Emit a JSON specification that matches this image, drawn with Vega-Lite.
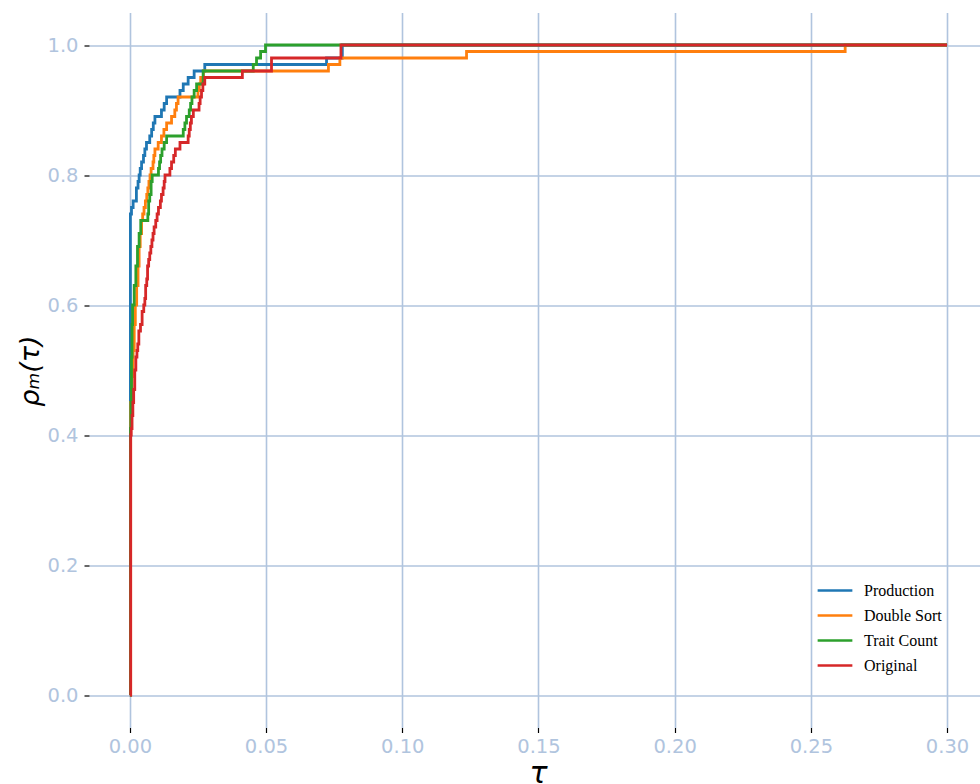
{
  "$schema": "https://vega.github.io/schema/vega-lite/v6.json",
  "autosize": {"type": "none"},
  "padding": {"left": 89, "top": 12.5, "right": 0, "bottom": 56.5},
  "width": 891,
  "height": 715,
  "background": "white",
  "config": {
    "view": {"stroke": null},
    "axis": {
      "domain": false,
      "grid": true,
      "gridColor": "#b0c4de",
      "gridWidth": 1.6,
      "tickColor": "#000000",
      "tickSize": 5,
      "tickWidth": 1.2,
      "labelColor": "#b0c4de",
      "labelFont": "DejaVu Sans",
      "labelFontSize": 19.5,
      "titleColor": "#000000",
      "titleFont": "DejaVu Sans",
      "titleFontStyle": "italic",
      "titleFontWeight": "normal"
    }
  },
  "data": {
    "values": [
      {"s": "Production", "t": 0, "r": 0},
      {"s": "Production", "t": 0.0002, "r": 0.74},
      {"s": "Production", "t": 0.0006, "r": 0.75},
      {"s": "Production", "t": 0.0012, "r": 0.76},
      {"s": "Production", "t": 0.0024, "r": 0.78},
      {"s": "Production", "t": 0.003, "r": 0.79},
      {"s": "Production", "t": 0.0034, "r": 0.80},
      {"s": "Production", "t": 0.0038, "r": 0.81},
      {"s": "Production", "t": 0.0043, "r": 0.82},
      {"s": "Production", "t": 0.005, "r": 0.83},
      {"s": "Production", "t": 0.0055, "r": 0.84},
      {"s": "Production", "t": 0.0061, "r": 0.85},
      {"s": "Production", "t": 0.0073, "r": 0.86},
      {"s": "Production", "t": 0.008, "r": 0.87},
      {"s": "Production", "t": 0.0086, "r": 0.88},
      {"s": "Production", "t": 0.0092, "r": 0.89},
      {"s": "Production", "t": 0.0116, "r": 0.90},
      {"s": "Production", "t": 0.0126, "r": 0.91},
      {"s": "Production", "t": 0.0135, "r": 0.92},
      {"s": "Production", "t": 0.0184, "r": 0.93},
      {"s": "Production", "t": 0.0196, "r": 0.94},
      {"s": "Production", "t": 0.0214, "r": 0.95},
      {"s": "Production", "t": 0.0236, "r": 0.96},
      {"s": "Production", "t": 0.0275, "r": 0.97},
      {"s": "Production", "t": 0.0722, "r": 0.98},
      {"s": "Production", "t": 0.078, "r": 1.0},
      {"s": "Production", "t": 0.30, "r": 1.0},

      {"s": "Double Sort", "t": 0, "r": 0},
      {"s": "Double Sort", "t": 0.0003, "r": 0.45},
      {"s": "Double Sort", "t": 0.0008, "r": 0.49},
      {"s": "Double Sort", "t": 0.0012, "r": 0.53},
      {"s": "Double Sort", "t": 0.0016, "r": 0.57},
      {"s": "Double Sort", "t": 0.002, "r": 0.60},
      {"s": "Double Sort", "t": 0.0025, "r": 0.63},
      {"s": "Double Sort", "t": 0.003, "r": 0.66},
      {"s": "Double Sort", "t": 0.0034, "r": 0.69},
      {"s": "Double Sort", "t": 0.0038, "r": 0.71},
      {"s": "Double Sort", "t": 0.0043, "r": 0.73},
      {"s": "Double Sort", "t": 0.0047, "r": 0.74},
      {"s": "Double Sort", "t": 0.0052, "r": 0.75},
      {"s": "Double Sort", "t": 0.0057, "r": 0.76},
      {"s": "Double Sort", "t": 0.0062, "r": 0.77},
      {"s": "Double Sort", "t": 0.0066, "r": 0.78},
      {"s": "Double Sort", "t": 0.007, "r": 0.79},
      {"s": "Double Sort", "t": 0.0074, "r": 0.80},
      {"s": "Double Sort", "t": 0.0078, "r": 0.81},
      {"s": "Double Sort", "t": 0.0085, "r": 0.82},
      {"s": "Double Sort", "t": 0.0088, "r": 0.83},
      {"s": "Double Sort", "t": 0.0092, "r": 0.84},
      {"s": "Double Sort", "t": 0.0104, "r": 0.85},
      {"s": "Double Sort", "t": 0.0116, "r": 0.86},
      {"s": "Double Sort", "t": 0.0125, "r": 0.87},
      {"s": "Double Sort", "t": 0.0135, "r": 0.88},
      {"s": "Double Sort", "t": 0.0153, "r": 0.89},
      {"s": "Double Sort", "t": 0.0165, "r": 0.90},
      {"s": "Double Sort", "t": 0.0171, "r": 0.91},
      {"s": "Double Sort", "t": 0.0177, "r": 0.92},
      {"s": "Double Sort", "t": 0.025, "r": 0.93},
      {"s": "Double Sort", "t": 0.0255, "r": 0.94},
      {"s": "Double Sort", "t": 0.026, "r": 0.95},
      {"s": "Double Sort", "t": 0.027, "r": 0.96},
      {"s": "Double Sort", "t": 0.0729, "r": 0.97},
      {"s": "Double Sort", "t": 0.0771, "r": 0.98},
      {"s": "Double Sort", "t": 0.1236, "r": 0.99},
      {"s": "Double Sort", "t": 0.2626, "r": 1.0},
      {"s": "Double Sort", "t": 0.30, "r": 1.0},

      {"s": "Trait Count", "t": 0, "r": 0},
      {"s": "Trait Count", "t": 0.0002, "r": 0.41},
      {"s": "Trait Count", "t": 0.0004, "r": 0.45},
      {"s": "Trait Count", "t": 0.0006, "r": 0.52},
      {"s": "Trait Count", "t": 0.0008, "r": 0.57},
      {"s": "Trait Count", "t": 0.001, "r": 0.60},
      {"s": "Trait Count", "t": 0.0016, "r": 0.63},
      {"s": "Trait Count", "t": 0.0022, "r": 0.66},
      {"s": "Trait Count", "t": 0.0028, "r": 0.69},
      {"s": "Trait Count", "t": 0.0034, "r": 0.71},
      {"s": "Trait Count", "t": 0.004, "r": 0.73},
      {"s": "Trait Count", "t": 0.0066, "r": 0.74},
      {"s": "Trait Count", "t": 0.0069, "r": 0.76},
      {"s": "Trait Count", "t": 0.0073, "r": 0.77},
      {"s": "Trait Count", "t": 0.0078, "r": 0.79},
      {"s": "Trait Count", "t": 0.0082, "r": 0.80},
      {"s": "Trait Count", "t": 0.0105, "r": 0.81},
      {"s": "Trait Count", "t": 0.0109, "r": 0.82},
      {"s": "Trait Count", "t": 0.0113, "r": 0.83},
      {"s": "Trait Count", "t": 0.0118, "r": 0.84},
      {"s": "Trait Count", "t": 0.0126, "r": 0.85},
      {"s": "Trait Count", "t": 0.0135, "r": 0.86},
      {"s": "Trait Count", "t": 0.0196, "r": 0.87},
      {"s": "Trait Count", "t": 0.0202, "r": 0.88},
      {"s": "Trait Count", "t": 0.0208, "r": 0.89},
      {"s": "Trait Count", "t": 0.0218, "r": 0.90},
      {"s": "Trait Count", "t": 0.0223, "r": 0.91},
      {"s": "Trait Count", "t": 0.0228, "r": 0.92},
      {"s": "Trait Count", "t": 0.0236, "r": 0.93},
      {"s": "Trait Count", "t": 0.0245, "r": 0.94},
      {"s": "Trait Count", "t": 0.0269, "r": 0.96},
      {"s": "Trait Count", "t": 0.0453, "r": 0.97},
      {"s": "Trait Count", "t": 0.0465, "r": 0.98},
      {"s": "Trait Count", "t": 0.048, "r": 0.99},
      {"s": "Trait Count", "t": 0.0498, "r": 1.0},
      {"s": "Trait Count", "t": 0.30, "r": 1.0},

      {"s": "Original", "t": 0, "r": 0},
      {"s": "Original", "t": 0.0003, "r": 0.40},
      {"s": "Original", "t": 0.0005, "r": 0.41},
      {"s": "Original", "t": 0.0008, "r": 0.43},
      {"s": "Original", "t": 0.0011, "r": 0.45},
      {"s": "Original", "t": 0.0014, "r": 0.47},
      {"s": "Original", "t": 0.0018, "r": 0.50},
      {"s": "Original", "t": 0.0022, "r": 0.52},
      {"s": "Original", "t": 0.0026, "r": 0.53},
      {"s": "Original", "t": 0.0029, "r": 0.54},
      {"s": "Original", "t": 0.0033, "r": 0.56},
      {"s": "Original", "t": 0.0039, "r": 0.57},
      {"s": "Original", "t": 0.0045, "r": 0.59},
      {"s": "Original", "t": 0.0051, "r": 0.60},
      {"s": "Original", "t": 0.0055, "r": 0.61},
      {"s": "Original", "t": 0.0058, "r": 0.63},
      {"s": "Original", "t": 0.0062, "r": 0.64},
      {"s": "Original", "t": 0.0065, "r": 0.66},
      {"s": "Original", "t": 0.0069, "r": 0.67},
      {"s": "Original", "t": 0.0073, "r": 0.68},
      {"s": "Original", "t": 0.0077, "r": 0.69},
      {"s": "Original", "t": 0.0081, "r": 0.70},
      {"s": "Original", "t": 0.0085, "r": 0.71},
      {"s": "Original", "t": 0.0089, "r": 0.72},
      {"s": "Original", "t": 0.0095, "r": 0.73},
      {"s": "Original", "t": 0.01, "r": 0.74},
      {"s": "Original", "t": 0.0105, "r": 0.75},
      {"s": "Original", "t": 0.0112, "r": 0.76},
      {"s": "Original", "t": 0.0116, "r": 0.77},
      {"s": "Original", "t": 0.0122, "r": 0.78},
      {"s": "Original", "t": 0.0126, "r": 0.79},
      {"s": "Original", "t": 0.0129, "r": 0.80},
      {"s": "Original", "t": 0.0147, "r": 0.81},
      {"s": "Original", "t": 0.0153, "r": 0.82},
      {"s": "Original", "t": 0.0161, "r": 0.83},
      {"s": "Original", "t": 0.0167, "r": 0.84},
      {"s": "Original", "t": 0.0184, "r": 0.85},
      {"s": "Original", "t": 0.0214, "r": 0.86},
      {"s": "Original", "t": 0.0218, "r": 0.87},
      {"s": "Original", "t": 0.0222, "r": 0.88},
      {"s": "Original", "t": 0.0226, "r": 0.89},
      {"s": "Original", "t": 0.0233, "r": 0.90},
      {"s": "Original", "t": 0.0254, "r": 0.91},
      {"s": "Original", "t": 0.0258, "r": 0.92},
      {"s": "Original", "t": 0.0263, "r": 0.93},
      {"s": "Original", "t": 0.0268, "r": 0.94},
      {"s": "Original", "t": 0.0275, "r": 0.95},
      {"s": "Original", "t": 0.0413, "r": 0.96},
      {"s": "Original", "t": 0.052, "r": 0.98},
      {"s": "Original", "t": 0.0775, "r": 1.0},
      {"s": "Original", "t": 0.30, "r": 1.0}
    ]
  },
  "mark": {"type": "line", "interpolate": "step-after", "strokeWidth": 2.8, "clip": true},
  "encoding": {
    "x": {
      "field": "t",
      "type": "quantitative",
      "scale": {"domain": [-0.015, 0.3121], "nice": false, "zero": false},
      "axis": {
        "values": [0, 0.05, 0.1, 0.15, 0.2, 0.25, 0.3],
        "format": ".2f",
        "title": "τ",
        "titleFontSize": 30,
        "titleX": 449,
        "titleY": 55,
        "titleBaseline": "alphabetic",
        "titleAlign": "center",
        "labelPadding": 5
      }
    },
    "y": {
      "field": "r",
      "type": "quantitative",
      "scale": {"domain": [-0.05, 1.05], "nice": false, "zero": false},
      "axis": {
        "values": [0, 0.2, 0.4, 0.6, 0.8, 1.0],
        "format": ".1f",
        "title": "ρₘ(τ)",
        "titleFontSize": 27,
        "titleAngle": -90,
        "titleX": -59,
        "titleY": 358,
        "titleBaseline": "middle",
        "titleAlign": "center",
        "labelPadding": 6
      }
    },
    "color": {
      "field": "s",
      "type": "nominal",
      "sort": ["Production", "Double Sort", "Trait Count", "Original"],
      "scale": {
        "domain": ["Production", "Double Sort", "Trait Count", "Original"],
        "range": ["#1f77b4", "#ff7f0e", "#2ca02c", "#d62728"]
      },
      "legend": {
        "orient": "none",
        "legendX": 738,
        "legendY": 570,
        "title": null,
        "padding": 0,
        "symbolType": "M-3,0H3",
        "symbolSize": 134,
        "symbolStrokeWidth": 2.5,
        "labelFont": "Liberation Serif",
        "labelFontSize": 16,
        "labelColor": "#000000",
        "labelOffset": 21,
        "rowPadding": 9
      }
    }
  }
}
